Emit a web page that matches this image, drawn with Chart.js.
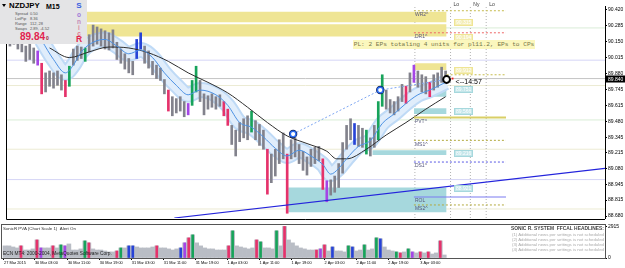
<!DOCTYPE html>
<html>
<head>
<meta charset="utf-8">
<script src="https://cdn.jsdelivr.net/npm/chart.js@4.4.1/dist/chart.umd.min.js"></script>
<style>
  html, body { margin: 0; padding: 0; background: #fff; }
  body { width: 625px; height: 268px; position: relative; overflow: hidden; font-family: "Liberation Sans", Arial, sans-serif; }
  canvas { position: absolute; left: 0; }
  #mainChart { top: 0; }
  #volChart { top: 224px; }
  .abs { position: absolute; line-height: 1; white-space: nowrap; }
  #info { position: absolute; left: 0; top: 0; width: 87px; height: 44px; background: #e4e4e6; z-index: 5; }
  #info .tri { position: absolute; left: 2px; top: 4px; width: 0; height: 0; border-left: 2.5px solid transparent; border-right: 2.5px solid transparent; border-top: 3px solid #000; }
  #info .k { font-size: 4px; color: #555; left: 15px; }
  #info .v { font-size: 4px; color: #555; left: 30px; }
  .sonic { left: 76px; width: 6px; text-align: center; font-weight: bold; }
  #pl { position: absolute; left: 353px; top: 40px; width: 182px; height: 9px; background: #fbf7bd; color: #76764a;
        font-family: "Liberation Mono", "DejaVu Sans Mono", monospace; font-size: 6.15px; line-height: 9px; text-align: center; z-index: 4; }
  .sub { font-size: 4.4px; color: #333; z-index: 4; }
  .news { right: 21px; font-size: 4.3px; color: #aaa; z-index: 4; text-align: right; }
</style>
</head>
<body>
<canvas id="mainChart" width="625" height="224"></canvas>
<canvas id="volChart" width="625" height="44"></canvas>

<div id="info">
  <div class="tri"></div>
  <div class="abs" style="left:9px;top:2px;font-size:7.8px;font-weight:bold;color:#000">NZDJPY</div>
  <div class="abs" style="left:46px;top:2.5px;font-size:7px;font-weight:bold;color:#000">M15</div>
  <div class="abs k" style="top:12px">Spread</div><div class="abs v" style="top:12px">0.50</div>
  <div class="abs k" style="top:17px">LotPip</div><div class="abs v" style="top:17px">8.36</div>
  <div class="abs k" style="top:22px">Range</div><div class="abs v" style="top:22px">112, 28</div>
  <div class="abs k" style="top:27px">Swaps</div><div class="abs v" style="top:27px">2.89, -4.52</div>
  <div class="abs" style="left:20px;top:32px;font-size:10px;font-weight:bold;color:#e2234f">89.84</div>
  <div class="abs" style="left:46px;top:35.5px;font-size:5px;font-weight:bold;color:#9a1a3a">0</div>
  <div class="abs sonic" style="top:2px;font-size:8px;color:#3a5fe0">S</div>
  <div class="abs sonic" style="top:11.5px;font-size:6.5px;color:#a07ad8">o</div>
  <div class="abs sonic" style="top:18.5px;font-size:6.5px;color:#c58ab8">n</div>
  <div class="abs sonic" style="top:24.5px;font-size:6.5px;color:#d98ca0">i</div>
  <div class="abs sonic" style="top:30.5px;font-size:6.5px;color:#e0788c">c</div>
  <div class="abs sonic" style="top:34.5px;font-size:8.5px;color:#e2234f">R</div>
</div>

<div id="pl">PL: 2 EPs totaling 4 units for pl11.2, EPs to CPs</div>

<div class="abs sub" style="left:3px;top:227px">SonicR PVA (Chart Scale 1)&nbsp;&nbsp;Alert On</div>
<div class="abs sub" style="left:3px;top:252px;color:#222;font-size:4.8px">ECN MT4: 2000-2004, MetaQuotes Software Corp.</div>
<div class="abs news" style="top:227px;font-size:4.9px;font-weight:bold;color:#444">SONIC R. SYSTEM&nbsp;&nbsp;FFCAL HEADLINES:</div>
<div class="abs news" style="top:232.5px">(1) Additional news per settings is not scheduled</div>
<div class="abs news" style="top:237.5px">(2) Additional news per settings is not scheduled</div>
<div class="abs news" style="top:242.5px">(3) Additional news per settings is not scheduled</div>
<div class="abs news" style="top:247.5px">(4) Additional news per settings is not scheduled</div>

<script>
const FONT = '"Liberation Sans", Arial, sans-serif';

// price axis
const priceMin = 88.664;
const priceMax = 90.452;
const priceTicks = [90.420, 90.285, 90.150, 90.015, 89.880, 89.745, 89.615, 89.480, 89.345, 89.215, 89.080, 88.945, 88.815, 88.680];
const lastPrice = 89.840;

// time axis (x = M15 bar number from the first bar on screen)
const barsOnScreen = 605;
const timeTicks = [3, 34, 67, 99, 131, 163, 195, 227, 259, 291, 324, 356, 388, 420];
const timeLabels = ["27 Mar 2015", "30 Mar 03:00", "30 Mar 11:00", "30 Mar 19:00", "31 Mar 03:00", "31 Mar 11:00",
  "31 Mar 19:00", "1 Apr 03:00", "1 Apr 11:00", "1 Apr 19:00", "2 Apr 03:00", "2 Apr 11:00", "2 Apr 19:00", "3 Apr 03:00"];

// hourly ranges (each one covers 4 M15 bars)
const priceHigh = [
  90.210, 90.226, 90.194, 90.170, 90.114, 90.130, 90.098, 90.073, 89.969, 89.888,
  89.904, 89.888, 89.904, 89.872, 89.824, 89.944, 90.089, 90.114, 90.106, 90.098,
  90.210, 90.291, 90.275, 90.259, 90.243, 90.226, 90.251, 90.146, 90.089, 90.049,
  90.009, 89.985, 90.170, 90.226, 90.114, 90.073, 89.985, 89.953, 89.928, 89.832,
  89.743, 89.687, 89.671, 89.687, 89.646, 89.630, 89.824, 89.944, 89.824, 89.711,
  89.695, 89.711, 89.687, 89.703, 89.646, 89.582, 89.445, 89.405, 89.469, 89.501,
  89.526, 89.566, 89.485, 89.453, 89.405, 89.244, 89.203, 89.244, 89.324, 89.381,
  89.203, 89.324, 89.340, 89.284, 89.227, 89.179, 89.244, 89.260, 89.268, 89.163,
  88.978, 88.986, 89.018, 89.123, 89.300, 89.445, 89.501, 89.461, 89.445, 89.421,
  89.405, 89.340, 89.445, 89.646, 89.872, 89.743, 89.663, 89.646, 89.687, 89.791,
  89.775, 89.888, 89.953, 89.904, 89.872, 89.856, 89.808, 89.872, 89.888, 89.936,
  89.904
];
const priceLow = [
  90.114, 90.130, 90.089, 90.065, 89.985, 90.001, 89.969, 89.953, 89.711, 89.727,
  89.775, 89.759, 89.783, 89.743, 89.687, 89.775, 89.953, 89.993, 90.009, 89.985,
  90.065, 90.114, 90.130, 90.114, 90.089, 90.081, 90.098, 90.001, 89.969, 89.920,
  89.888, 89.872, 90.009, 90.089, 89.969, 89.928, 89.872, 89.840, 89.824, 89.711,
  89.566, 89.526, 89.550, 89.566, 89.518, 89.534, 89.614, 89.727, 89.646, 89.534,
  89.582, 89.598, 89.582, 89.606, 89.526, 89.445, 89.284, 89.187, 89.308, 89.340,
  89.324, 89.389, 89.324, 89.276, 89.244, 88.865, 88.962, 89.018, 89.123, 89.163,
  88.704, 89.163, 89.179, 89.123, 89.066, 89.026, 89.099, 89.123, 89.147, 88.905,
  88.801, 88.857, 88.881, 88.921, 89.042, 89.244, 89.324, 89.284, 89.268, 89.260,
  89.203, 89.187, 89.260, 89.324, 89.606, 89.582, 89.550, 89.534, 89.566, 89.646,
  89.630, 89.727, 89.808, 89.767, 89.727, 89.711, 89.687, 89.743, 89.767, 89.808,
  89.824
];
// Sonic R PVA class of each range: n normal, r/g climax bear/bull, b/m rising volume
const pvaClass = ("nnnnnnnmrn" + "nnnnrgnnng" + "nnnnnnnnnn" + "nnbbnnnnnn" + "rnnnnmggnn" +
  "nnnnrrnnnn" + "ngnnnrnnnn" + "rnnnnnnnnr" + "mnnnnnnbnn" + "gnnggnnnnn" + "rnmnnnrnnnn").split("");

const volume = [
  1120, 1120, 1020, 930, 1120, 740, 740, 840, 1670, 930,
  930, 930, 1120, 930, 1210, 1120, 1300, 740, 740, 840,
  1580, 1400, 840, 740, 740, 650, 560, 560, 650, 930,
  930, 1120, 1120, 1020, 930, 930, 930, 1020, 1120, 930,
  930, 840, 740, 840, 930, 1400, 1860, 2140, 1400, 1120,
  930, 840, 840, 740, 740, 740, 1120, 2510, 1120, 1020,
  930, 840, 930, 1670, 1490, 930, 930, 840, 2510, 1120,
  2915, 1670, 1400, 1120, 930, 840, 740, 740, 740, 840,
  1210, 650, 1020, 650, 650, 560, 1120, 1020, 650, 740,
  1210, 740, 840, 1860, 1770, 1020, 740, 650, 560, 470,
  560, 840, 560, 470, 560, 470, 560, 370, 470, 1580,
  280
];
const volClass = ("nnnnrnnnrm" + "nnrngmnnnn" + "grnnnnnnrg" + "nbbnnnnnrn" + "nnnnbmrgnn" +
  "nnnnnnrgnn" + "nnnrgnnngn" + "rnnnnnnnrm" + "rnbnnngbnn" + "gnngbnnngr" + "ngmnrnrnnrn").split("");
const volTicks = [0, 2915];
const volMax = 3050;

// moving averages
const slowMaBars = [44, 64, 84, 104, 124, 144, 164, 184, 204, 224, 244, 264, 284, 304, 324, 334, 344, 364, 384, 404, 424, 444];
const slowMa = [90.098, 90.017, 90.065, 90.106, 90.098, 90.057, 89.985, 89.888, 89.808, 89.719, 89.598,
  89.469, 89.356, 89.292, 89.227, 89.163, 89.163, 89.244, 89.364, 89.469, 89.582, 89.687];
const dragonBars = [36, 48, 60, 68, 76, 88, 100, 112, 124, 136, 148, 160, 172, 184, 196, 212, 224, 236,
  248, 260, 272, 284, 296, 308, 320, 328, 336, 344, 356, 368, 380, 392, 404, 416, 428, 444];
const dragonMa = [90.162, 90.001, 89.888, 89.953, 90.065, 90.146, 90.170, 90.114, 90.049, 90.081, 90.017,
  89.888, 89.783, 89.703, 89.743, 89.703, 89.614, 89.469, 89.429, 89.348, 89.252, 89.187, 89.236, 89.187,
  89.115, 89.034, 89.082, 89.163, 89.268, 89.316, 89.461, 89.542, 89.630, 89.703, 89.743, 89.808];

// supply / demand zones
const zoneStart = [0, 0, 413, 427, 412, 370, 285];
const zoneEnd = [445, 445, 445, 445, 445, 445, 445];
const zoneTop = [90.404, 90.299, 89.969, 89.751, 89.590, 89.236, 88.921];
const zoneBottom = [90.315, 90.194, 89.912, 89.687, 89.542, 89.195, 88.712];
const zoneKind = ["supply", "supply", "supply", "demand", "demand", "demand", "demand"];
const zoneLabel = [90.315, 90.194, 89.912, 89.751, 89.566, 89.216, 88.921];

// pivot levels
const pivotNames = ["WR2", "DR1", "PVT", "MS1", "DS1", "ROL", "MS2", ""];
const pivotPrices = [90.412, 90.226, 89.512, 89.319, 89.136, 88.841, 88.774, 89.872];
const pivotFrom = [412, 412, 412, 412, 412, 412, 412, 445];
const pivotTo = 505;

// background levels across the whole chart
const refLevels = [90.267, 89.995, 89.781, 89.491, 89.244, 88.988, 88.740];
const refKind = ["g", "l", "y", "g", "y", "l", "y"];

// sessions
const sessionBars = [413, 449, 469, 485];
const sessionNames = ["", "Lo", "Ny", "Lo"];

// trend line, entry signals and the projection between them
const trendBars = [170, 605];
const trendPrices = [88.664, 89.082];
const signalBars = [290, 378];
const signalPrices = [89.372, 89.743];
const projBars = [290, 378, 445];
const projPrices = [89.372, 89.743, 89.832];
const nowBar = 445;
const nowPrice = 89.832;
const timerText = "<--14:57";

const pvaColors = { n: "#82828c", r: "#e5326b", g: "#17a35a", b: "#2743d6", m: "#a445e6" };
const volColors = { n: "#b9bdc5", r: "#e5326b", g: "#17a35a", b: "#2743d6", m: "#a445e6" };
const zoneColors = { supply: "#efe594", demand: "#a6d8dd" };
const zoneLabelFill = { supply: "#f4eeb8", demand: "#c4e6ea" };
const refColors = { g: "#d9edd7", l: "#d5d5f6", y: "#ecebd3" };
const pivotStyle = {
  WR2: ["#c6bc4e", [2, 2], 1], DR1: ["#ef6666", [2, 2], 1], PVT: ["#d9cf66", [], 2],
  MS1: ["#b3a93e", [2, 2], 1], DS1: ["#5858e4", [2, 2], 1], ROL: ["#7a7af0", [], 1],
  MS2: ["#b3a93e", [2, 2], 1], "": ["#c6bc4e", [2, 2], 1],
};

const barX = priceHigh.map((_, i) => (i + 1) * 4);
const xy = (xs, ys) => xs.map((x, i) => ({ x, y: ys[i] }));
const flat = (x0, x1, y) => [{ x: x0, y }, { x: x1, y }];
const plain = { type: "line", pointRadius: 0, borderWidth: 1 };
// keep the plot edge-to-edge: no label padding around the axes
const noPad = (s) => { s.paddingTop = 0; s.paddingBottom = 0; s.paddingLeft = 0; s.paddingRight = 0; };

const mainSets = [];
refLevels.forEach((p, i) => {
  mainSets.push({ ...plain, data: flat(0, barsOnScreen, p), borderColor: refColors[refKind[i]], order: 60 });
});
mainSets.push({ ...plain, data: flat(0, barsOnScreen, lastPrice), borderColor: "#c4c4c4", order: 59 });
sessionBars.forEach((b) => {
  mainSets.push({ ...plain, data: [{ x: b, y: priceMin }, { x: b, y: priceMax }], borderColor: "#b2b2b2", borderDash: [1, 2], order: 58 });
});
zoneTop.forEach((top, i) => {
  mainSets.push({ ...plain, data: flat(zoneStart[i], zoneEnd[i], top), borderWidth: 0,
    fill: { value: zoneBottom[i] }, backgroundColor: zoneColors[zoneKind[i]], order: 50 });
});
mainSets.push({ ...plain, data: xy(dragonBars, dragonMa), borderWidth: 16, borderColor: "#bfdaf6",
  cubicInterpolationMode: "monotone", order: 31 });
mainSets.push({ ...plain, data: xy(dragonBars, dragonMa), borderWidth: 12, borderColor: "#e0edfb",
  cubicInterpolationMode: "monotone", order: 30 });
mainSets.push({
  type: "bar",
  data: barX.map((x, i) => ({ x, y: [priceLow[i], priceHigh[i]] })),
  backgroundColor: pvaClass.map((c) => pvaColors[c]),
  barThickness: 2, grouped: false, order: 20,
});
mainSets.push({ ...plain, data: xy(trendBars, trendPrices), borderColor: "#2424dc", borderWidth: 1.2, order: 12 });
mainSets.push({ ...plain, data: xy(slowMaBars, slowMa), borderColor: "#2e2e2e", cubicInterpolationMode: "monotone", order: 10 });
mainSets.push({ ...plain, data: xy(dragonBars, dragonMa), borderColor: "#4d92e4", cubicInterpolationMode: "monotone", order: 9 });
pivotNames.forEach((name, i) => {
  const [color, dash, width] = pivotStyle[name];
  mainSets.push({ ...plain, data: flat(pivotFrom[i], pivotTo, pivotPrices[i]), borderColor: color, borderDash: dash, borderWidth: width, order: 8 });
});
mainSets.push({ ...plain, data: xy(projBars, projPrices), borderColor: "#7ea6f2", borderDash: [2, 2], order: 6 });
mainSets.push({ type: "line", showLine: false, data: xy(signalBars, signalPrices), pointRadius: 4.2,
  pointBackgroundColor: "#0e1d55", pointBorderWidth: 0, order: 4 });
mainSets.push({ type: "line", showLine: false, data: xy(signalBars, signalPrices), pointRadius: 2.8,
  pointBackgroundColor: "#ffffff", pointBorderColor: "#2a6cf0", pointBorderWidth: 1.4, order: 3 });
mainSets.push({ type: "line", showLine: false, data: [{ x: nowBar, y: nowPrice }], pointRadius: 3.4,
  pointBackgroundColor: "#ffffff", pointBorderColor: "#000000", pointBorderWidth: 2, order: 2 });
mainSets.push({ type: "line", showLine: false, data: [{ x: nowBar + 6, y: lastPrice }], pointStyle: "rect", pointRadius: 1.3,
  pointBackgroundColor: "#ee1c1c", pointBorderWidth: 0, order: 1 });

const mainLabels = {
  id: "mainLabels",
  afterDatasetsDraw(chart) {
    const { ctx, scales: { x, y } } = chart;
    ctx.save();
    ctx.textBaseline = "top";
    ctx.font = `5px ${FONT}`;
    ctx.fillStyle = "#56567c";
    pivotNames.forEach((name, i) => {
      if (!name) return;
      const mark = name === "ROL" ? "" : "^";
      ctx.fillText(name + mark, x.getPixelForValue(pivotFrom[i]) + 1, y.getPixelForValue(pivotPrices[i]) + 1.5);
    });
    ctx.fillStyle = "#3a3a3a";
    sessionNames.forEach((name, i) => {
      if (name) ctx.fillText(name, x.getPixelForValue(sessionBars[i]) + 3, 2);
    });
    ctx.textBaseline = "middle";
    zoneLabel.forEach((p, i) => {
      const left = Math.round(x.getPixelForValue(zoneEnd[i])) + 7;
      const mid = Math.round(y.getPixelForValue(p)) + 0.5;
      ctx.fillStyle = zoneLabelFill[zoneKind[i]];
      ctx.fillRect(left, mid - 3, 18, 6);
      ctx.strokeStyle = zoneColors[zoneKind[i]];
      ctx.lineWidth = 1;
      ctx.strokeRect(left + 0.5, mid - 3, 18, 6);
      ctx.fillStyle = "#ffffff";
      ctx.fillText(p.toFixed(3), left + 2, mid + 0.5);
    });
    ctx.font = `7px ${FONT}`;
    ctx.fillStyle = "#000";
    ctx.fillText(timerText, x.getPixelForValue(nowBar) + 9, y.getPixelForValue(nowPrice) + 3);
    ctx.restore();
  },
  afterDraw(chart) {
    const { ctx, chartArea: a, scales: { y } } = chart;
    ctx.save();
    ctx.strokeStyle = "#000";
    ctx.lineWidth = 1;
    ctx.beginPath();
    ctx.moveTo(a.left + 0.5, a.top);
    ctx.lineTo(a.left + 0.5, a.bottom + 1.5);
    ctx.lineTo(a.right, a.bottom + 1.5);
    ctx.stroke();
    const py = Math.round(y.getPixelForValue(lastPrice));
    ctx.fillStyle = "#000";
    ctx.fillRect(a.right + 1, py - 3.5, 19, 7);
    ctx.fillStyle = "#fff";
    ctx.font = `5px ${FONT}`;
    ctx.textBaseline = "middle";
    ctx.fillText(lastPrice.toFixed(3), a.right + 3, py + 0.5);
    ctx.restore();
  },
};

new Chart(document.getElementById("mainChart"), {
  type: "line",
  data: { datasets: mainSets },
  options: {
    responsive: false,
    animation: false,
    devicePixelRatio: 1,
    layout: { padding: { left: 1, top: 0, right: 0, bottom: 2 } },
    plugins: { legend: { display: false }, tooltip: { enabled: false } },
    scales: {
      x: { type: "linear", min: 0, max: barsOnScreen, offset: false, grid: { offset: false }, display: false },
      y: {
        position: "right",
        min: priceMin,
        max: priceMax,
        afterBuildTicks: (s) => { s.ticks = priceTicks.map((v) => ({ value: v })); },
        afterFit: (s) => { s.width = 20; noPad(s); },
        ticks: { font: { size: 5, family: FONT }, color: "#000", padding: 1, callback: (v) => Number(v).toFixed(3) },
        grid: { drawOnChartArea: false, drawTicks: true, tickLength: 2, color: "#000" },
        border: { display: true, color: "#000" },
      },
    },
  },
  plugins: [mainLabels],
});

const volFrame = {
  id: "volFrame",
  afterDraw(chart) {
    const { ctx, chartArea: a } = chart;
    ctx.save();
    ctx.strokeStyle = "#555";
    ctx.lineWidth = 1;
    ctx.strokeRect(a.left + 0.5, a.top - 0.5, a.right - a.left, a.bottom - a.top + 1);
    ctx.restore();
  },
};

new Chart(document.getElementById("volChart"), {
  type: "line",
  data: {
    datasets: [
      {
        type: "bar",
        data: barX.map((x, i) => ({ x, y: volume[i] })),
        backgroundColor: volColors.n,
        barThickness: 4, grouped: false, order: 2,
      },
      {
        type: "bar",
        data: barX.map((x, i) => ({ x, y: volClass[i] === "n" ? null : volume[i] })),
        backgroundColor: volClass.map((c) => volColors[c]),
        barThickness: 2, grouped: false, order: 1,
      },
    ],
  },
  options: {
    responsive: false,
    animation: false,
    devicePixelRatio: 1,
    layout: { padding: { left: 1, top: 1, right: 0, bottom: 0 } },
    plugins: { legend: { display: false }, tooltip: { enabled: false } },
    scales: {
      x: {
        type: "linear",
        min: 0,
        max: barsOnScreen,
        offset: false,
        afterBuildTicks: (s) => { s.ticks = timeTicks.map((v) => ({ value: v })); },
        afterFit: (s) => { s.height = 10; noPad(s); },
        ticks: { autoSkip: false, maxRotation: 0, align: "start", padding: 1, color: "#000",
          font: { size: 3.9, family: FONT }, callback: (v, i) => timeLabels[i] },
        grid: { offset: false, drawOnChartArea: false, drawTicks: true, tickLength: 2, color: "#000" },
        border: { display: true, color: "#000" },
      },
      y: {
        position: "right",
        min: 0,
        max: volMax,
        afterBuildTicks: (s) => { s.ticks = volTicks.map((v) => ({ value: v })); },
        afterFit: (s) => { s.width = 20; noPad(s); },
        ticks: { font: { size: 5, family: FONT }, color: "#000", padding: 1, callback: (v) => String(v) },
        grid: { drawOnChartArea: false, drawTicks: true, tickLength: 2, color: "#000" },
        border: { display: true, color: "#000" },
      },
    },
  },
  plugins: [volFrame],
});
</script>
</body>
</html>
